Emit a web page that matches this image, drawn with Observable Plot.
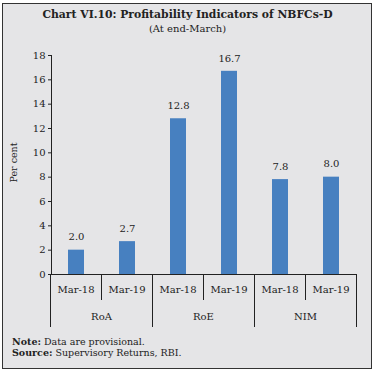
<!DOCTYPE html>
<html>
<head>
<meta charset="utf-8">
<script src="https://cdn.jsdelivr.net/npm/d3@7"></script>
<script src="https://cdn.jsdelivr.net/npm/@observablehq/plot@0.6"></script>
<style>
  html, body { margin: 0; padding: 0; background: #fff; }
  #page { position: relative; width: 375px; height: 374px; overflow: hidden; }
  #box { position: absolute; left: 2px; top: 3px; width: 368px; height: 364px;
         border: 1.5px solid #333; background: #e5e5e7; }
  .t { position: absolute; left: 0; width: 100%; text-align: center; font-family: "DejaVu Serif", serif; color: #222; }
  #title { top: 8px; font-weight: bold; font-size: 10.8px; }
  #subtitle { top: 23px; font-size: 10px; }
  #chart { position: absolute; left: 0; top: 40px; }
  .note { position: absolute; left: 12px; font-family: "DejaVu Serif", serif; font-size: 9.5px; color: #222; }
</style>
</head>
<body>
<div id="page">
  <div id="box"></div>
  <div class="t" id="title">Chart VI.10: Profitability Indicators of NBFCs-D</div>
  <div class="t" id="subtitle">(At end-March)</div>
  <div id="chart"></div>
  <div class="note" style="top:336px"><b>Note:</b> Data are provisional.</div>
  <div class="note" style="top:347px"><b>Source:</b> Supervisory Returns, RBI.</div>
</div>
<script>
const groups = ["RoA", "RoE", "NIM"];
const years = ["Mar-18", "Mar-19"];
const valuesMar18 = [2.0, 12.8, 7.8];
const valuesMar19 = [2.7, 16.7, 8.0];
const yTicks = [0, 2, 4, 6, 8, 10, 12, 14, 16, 18];

const data = [];
groups.forEach((g, i) => {
  data.push({group: g, year: years[0], key: g + "|" + years[0], value: valuesMar18[i]});
  data.push({group: g, year: years[1], key: g + "|" + years[1], value: valuesMar19[i]});
});

const font = "DejaVu Serif, serif";
const plot = Plot.plot({
  width: 375,
  height: 300,
  marginLeft: 51,
  marginRight: 18,
  marginTop: 15,
  marginBottom: 66,
  style: {background: "transparent", fontFamily: font, fontSize: "9.5px", color: "#222"},
  x: {domain: data.map(d => d.key), paddingInner: 0.68, paddingOuter: 0.34, axis: null},
  y: {domain: [0, 18], ticks: yTicks},
  marks: [
    Plot.axisY({ticks: yTicks, tickSize: 3, tickPadding: 3, label: null, fontSize: 10}),
    Plot.barY(data, {x: "key", y: "value", fill: "#4780c0"}),
    Plot.text(data, {x: "key", y: "value", text: d => d.value.toFixed(1), dy: -13, fontSize: 10, fill: "#222"}),
    Plot.ruleY([0], {stroke: "#222", strokeWidth: 1}),
    Plot.frame({anchor: "left", stroke: "#222"})
  ]
});
document.getElementById("chart").appendChild(plot);

// lower hierarchical category axis built from Plot's own scales
const xs = plot.scale("x");
const ys = plot.scale("y");
const step = xs.step;
const y0 = ys.apply(0);
const svg = d3.select(plot);
const g = svg.append("g").attr("stroke", "#222").attr("fill", "none");
const keys = data.map(d => d.key);
const bandStart = k => xs.apply(k) - (step - xs.bandwidth) / 2;
keys.forEach((k, i) => {
  const x = bandStart(k);
  const isGroupEdge = i % 2 === 0;
  g.append("line").attr("x1", x).attr("x2", x).attr("y1", y0).attr("y2", y0 + (isGroupEdge ? 53 : 26));
});
const xEnd = bandStart(keys[keys.length - 1]) + step;
g.append("line").attr("x1", xEnd).attr("x2", xEnd).attr("y1", y0).attr("y2", y0 + 53);

const tg = svg.append("g").attr("font-family", font).attr("font-size", 10).attr("fill", "#222").attr("text-anchor", "middle");
data.forEach(d => {
  tg.append("text").attr("x", xs.apply(d.key) + xs.bandwidth / 2).attr("y", y0 + 19).text(d.year);
});
groups.forEach(gname => {
  const a = bandStart(gname + "|" + years[0]);
  tg.append("text").attr("x", a + step).attr("y", y0 + 46).text(gname);
});
svg.append("text").attr("font-family", font).attr("font-size", 9.5).attr("fill", "#222")
  .attr("text-anchor", "middle").attr("transform", `translate(17,${ys.apply(9) - 2}) rotate(-90)`).text("Per cent");
</script>
</body>
</html>
